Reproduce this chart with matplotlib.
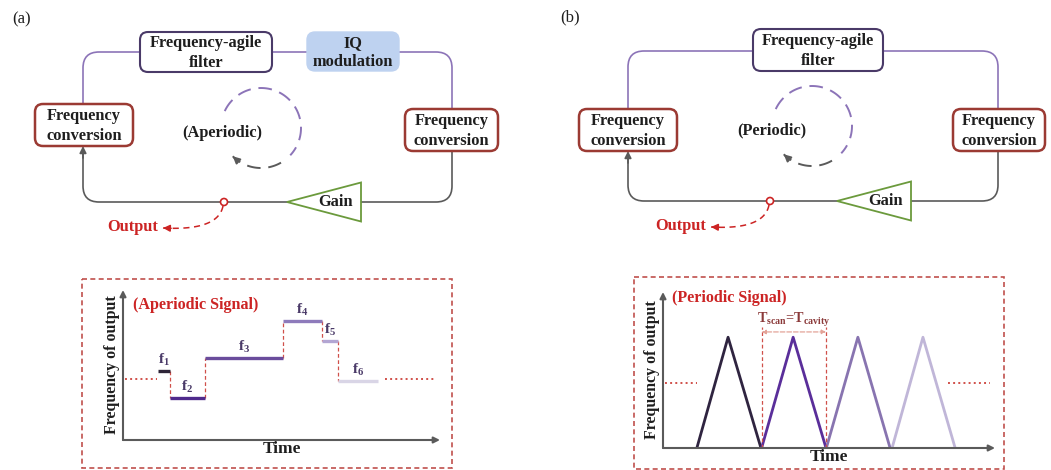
import numpy as np
import matplotlib
matplotlib.use('Agg')
from matplotlib import pyplot as plt
from matplotlib.path import Path
from matplotlib.patches import PathPatch, FancyBboxPatch, Polygon, Circle, Rectangle

plt.rcParams['font.family'] = ['Liberation Serif', 'DejaVu Serif']
plt.rcParams['mathtext.fontset'] = 'custom'
plt.rcParams['mathtext.rm'] = 'Liberation Serif:bold'
plt.rcParams['mathtext.bf'] = 'Liberation Serif:bold'
plt.rcParams['mathtext.it'] = 'Liberation Serif:bold'

# ---- data: aperiodic signal (step frequencies) ----
STEP_LABELS = ['1', '2', '3', '4', '5', '6']
STEP_START = [1.10, 1.48, 2.59, 5.05, 6.28, 6.78]
STEP_END = [1.48, 2.59, 5.05, 6.28, 6.78, 8.04]
STEP_LEVEL = [4.6, 2.8, 5.47, 7.93, 6.6, 3.93]
STEP_COLORS = ['#2e2438', '#4f2a8c', '#6a4c9c', '#8e7bbb', '#b3a6d3', '#d9d5e6']
APER_DOTS_LEFT = [0.06, 1.07]
APER_DOTS_RIGHT = [8.26, 9.84]
APER_DOT_LEVEL = 4.1

# ---- data: periodic signal (triangle sweeps) ----
TRI_START = [1.02, 2.97, 4.92, 6.90]
TRI_PEAK = [1.96, 3.92, 5.87, 7.83]
TRI_END = [2.95, 4.91, 6.84, 8.80]
TRI_HEIGHT = 7.1
TRI_COLORS = ['#2f2440', '#5a2e9a', '#8874b0', '#c0b6d8']
PER_DOTS_LEFT = [0.06, 1.02]
PER_DOTS_RIGHT = [8.58, 9.85]
PER_DOT_LEVEL = 4.17
TSCAN_X = [2.97, 4.91]
TSCAN_TOP = 7.76
TSCAN_ARROW_Y = 7.44

DARK = '#1e1e1e'
PURPLE_LINE = '#8c74b8'
GREY_LINE = '#5a5a5a'
BOX_RED = '#9b3a33'
BOX_PURPLE = '#4a3a68'
GAIN_GREEN = '#6b9a3c'
RED = '#cc2424'
DOT_RED = '#d0504a'

FS = 11.8
W, H = 1051, 470


def rounded_path(points, r):
    verts = [points[0]]
    codes = [Path.MOVETO]
    for i in range(1, len(points) - 1):
        p0, p1, p2 = (np.array(points[j], float) for j in (i - 1, i, i + 1))
        d1 = (p1 - p0) / np.linalg.norm(p1 - p0)
        d2 = (p2 - p1) / np.linalg.norm(p2 - p1)
        verts += [p1 - d1 * r, p1, p1 + d2 * r]
        codes += [Path.LINETO, Path.CURVE3, Path.CURVE3]
    verts.append(points[-1])
    codes.append(Path.LINETO)
    return Path(verts, codes)


def box(ax, x0, y0, x1, y1, lines, edge, face='white', lw=1.6):
    ax.add_patch(FancyBboxPatch((x0, y0), x1 - x0, y1 - y0,
                                boxstyle='round,pad=0,rounding_size=8',
                                ec=edge, fc=face, lw=lw, zorder=3))
    ax.text((x0 + x1) / 2, (y0 + y1) / 2 + 1, lines, ha='center', va='center',
            fontsize=FS, fontweight='bold', color=DARK, linespacing=1.3, zorder=4)


def dashed_curve(ax, pts, color, lw, dash=(4, 3)):
    ax.plot(pts[:, 0], pts[:, 1], color=color, lw=lw, ls=(0, dash), zorder=2)
    ax.annotate('', xy=pts[-1], xytext=pts[-4],
                arrowprops=dict(arrowstyle='-|>', color=color, lw=lw,
                                mutation_scale=10, shrinkA=0, shrinkB=0))


def draw_loop(ax, p):
    lx, rx, ty, by = p['left'], p['right'], p['top'], p['bottom']
    r = 16
    fl = p['filter']
    # purple upper path
    ax.add_patch(PathPatch(rounded_path([(lx, p['fc_left'][1]), (lx, ty), (fl[0], ty)], r),
                           fc='none', ec=PURPLE_LINE, lw=1.2, zorder=1))
    if p['iq'] is not None:
        iq = p['iq']
        ax.plot([fl[2], iq[0]], [ty, ty], color=PURPLE_LINE, lw=1.2, zorder=1)
        start = iq[2]
    else:
        start = fl[2]
    ax.add_patch(PathPatch(rounded_path([(start, ty), (rx, ty), (rx, p['fc_right'][1])], r),
                           fc='none', ec=PURPLE_LINE, lw=1.2, zorder=1))
    # grey lower path
    gx0, gx1, gh = p['gain']
    ax.add_patch(PathPatch(rounded_path([(rx, p['fc_right'][3]), (rx, by), (gx1, by)], r),
                           fc='none', ec=GREY_LINE, lw=1.2, zorder=1))
    ax.add_patch(PathPatch(rounded_path([(gx0, by), (lx, by), (lx, p['fc_left'][3] + 8)], r),
                           fc='none', ec=GREY_LINE, lw=1.2, zorder=1))
    ax.annotate('', xy=(lx, p['fc_left'][3]), xytext=(lx, p['fc_left'][3] + 12),
                arrowprops=dict(arrowstyle='-|>', color=GREY_LINE, lw=1.2,
                                mutation_scale=10, shrinkA=0, shrinkB=0), zorder=2)
    # boxes
    box(ax, *fl, 'Frequency-agile\nfilter', BOX_PURPLE, lw=1.5)
    if p['iq'] is not None:
        box(ax, *p['iq'], 'IQ\nmodulation', '#bed2f0', face='#bed2f0', lw=1.0)
    box(ax, *p['fc_left'], 'Frequency\nconversion', BOX_RED, lw=1.8)
    box(ax, *p['fc_right'], 'Frequency\nconversion', BOX_RED, lw=1.8)
    # gain triangle
    ax.add_patch(Polygon([(gx0, by), (gx1, by - gh), (gx1, by + gh)], closed=True,
                         fc='white', ec=GAIN_GREEN, lw=1.3, zorder=3))
    ax.text(gx1 - 25, by, 'Gain', ha='center', va='center', fontsize=FS,
            fontweight='bold', color=DARK, zorder=4)
    # output tap
    ox = p['out_x']
    ax.add_patch(Circle((ox, by), 3.5, fc='white', ec=RED, lw=1.2, zorder=4))
    tx, ty2 = p['out_tip']
    t = np.linspace(0, 1, 40)[:, None]
    a0, c, a1 = np.array([ox - 1, by + 4]), np.array([ox - 6, ty2 + 3]), np.array([tx, ty2])
    pts = (1 - t) ** 2 * a0 + 2 * (1 - t) * t * c + t ** 2 * a1
    dashed_curve(ax, pts, RED, 1.1)
    ax.text(tx - 5, ty2 - 1, 'Output', ha='right', va='center', fontsize=FS,
            fontweight='bold', color=RED)
    # circulation circle
    cx, cy = p['circle']
    rad = 40
    th = np.radians(np.linspace(155, -43, 80))
    ax.plot(cx + rad * np.cos(th), cy - rad * np.sin(th), color=PURPLE_LINE, lw=1.4,
            ls=(0, (7, 4)))
    th = np.radians(np.linspace(-60, -135, 40))
    pts = np.column_stack([cx + rad * np.cos(th), cy - rad * np.sin(th)])
    dashed_curve(ax, pts, GREY_LINE, 1.4, dash=(7, 4))
    ax.text(*p['circle_label'], p['mode'], ha='center', va='center', fontsize=FS,
            fontweight='bold', color=DARK)
    ax.text(*p['tag_pos'], p['tag'], ha='center', va='center', fontsize=12, color=DARK)


PANEL_A = dict(left=83, right=452, top=52, bottom=202,
               filter=(140, 32, 272, 72), iq=(307, 32, 399, 71),
               fc_left=(35, 104, 133, 146), fc_right=(405, 109, 498, 151),
               gain=(287, 361, 19.5), out_x=224, out_tip=(163, 228),
               circle=(261, 128), circle_label=(222, 133), mode='(Aperiodic)',
               tag='(a)', tag_pos=(22, 19))
PANEL_B = dict(left=628, right=998, top=51, bottom=201,
               filter=(753, 29, 883, 71), iq=None,
               fc_left=(579, 109, 677, 151), fc_right=(953, 109, 1045, 151),
               gain=(837, 911, 19.5), out_x=770, out_tip=(711, 227),
               circle=(812, 126), circle_label=(772, 130), mode='(Periodic)',
               tag='(b)', tag_pos=(570, 17))

fig = plt.figure(figsize=(W / 100, H / 100), dpi=100)
bg = fig.add_axes([0, 0, 1, 1])
bg.set_xlim(0, W)
bg.set_ylim(H, 0)
bg.axis('off')

draw_loop(bg, PANEL_A)
draw_loop(bg, PANEL_B)

# dashed frames of the signal insets
for x0, y0, x1, y1 in [(82, 279, 452, 468), (634, 277, 1004, 469)]:
    bg.add_patch(Rectangle((x0, y0), x1 - x0, y1 - y0, fc='none', ec='#c0504d',
                           lw=1.2, ls=(0, (3, 2))))


def signal_axes(ox, oy, xe, yt):
    ax = fig.add_axes([ox / W, (H - oy) / H, (xe - ox) / W, (oy - yt) / H])
    ax.set_xlim(0, 10)
    ax.set_ylim(0, 10)
    ax.patch.set_alpha(0)
    for s in ax.spines.values():
        s.set_visible(False)
    ax.set_xticks([])
    ax.set_yticks([])
    for end in [(1, 0), (0, 1)]:
        ax.annotate('', xy=end, xytext=(0, 0), xycoords='axes fraction',
                    arrowprops=dict(arrowstyle='-|>', color=GREY_LINE, lw=1.5,
                                    mutation_scale=9, shrinkA=0, shrinkB=0))
    ax.set_ylabel('Frequency of output', fontsize=11.4, fontweight='bold',
                  color=DARK, labelpad=2)
    ax.set_xlabel('Time', fontsize=12.5, fontweight='bold', color=DARK, labelpad=1)
    return ax


# aperiodic signal
ax1 = signal_axes(123, 440, 440, 290)
ax1.plot(APER_DOTS_LEFT, [APER_DOT_LEVEL] * 2, color=DOT_RED, ls=':', lw=1.4)
ax1.plot(APER_DOTS_RIGHT, [APER_DOT_LEVEL] * 2, color=DOT_RED, ls=':', lw=1.4)
for i in range(len(STEP_LEVEL) - 1):
    ax1.plot([STEP_END[i]] * 2, [STEP_LEVEL[i], STEP_LEVEL[i + 1]], color=DOT_RED,
             lw=0.9, ls=(0, (3, 2)))
for s, e, lv, c, lab in zip(STEP_START, STEP_END, STEP_LEVEL, STEP_COLORS, STEP_LABELS):
    ax1.plot([s, e], [lv, lv], color=c, lw=2.4, solid_capstyle='butt')
    ax1.annotate('f$_{%s}$' % lab, xy=((s + e) / 2, lv), xytext=(0, 2),
                 textcoords='offset points', ha='center', va='bottom',
                 fontsize=11, fontweight='bold', color='#4a3a68')
ax1.text(0.3, 9.0, '(Aperiodic Signal)', fontsize=11.6, fontweight='bold',
         color=RED, va='center')

# periodic signal
ax2 = signal_axes(663, 448, 995, 292)
ax2.plot(PER_DOTS_LEFT, [PER_DOT_LEVEL] * 2, color=DOT_RED, ls=':', lw=1.4)
ax2.plot(PER_DOTS_RIGHT, [PER_DOT_LEVEL] * 2, color=DOT_RED, ls=':', lw=1.4)
for s, pk, e, c in zip(TRI_START, TRI_PEAK, TRI_END, TRI_COLORS):
    ax2.plot([s, pk, e], [0, TRI_HEIGHT, 0], color=c, lw=2.0)
for x in TSCAN_X:
    ax2.plot([x, x], [0, TSCAN_TOP], color=DOT_RED, lw=0.9, ls=(0, (3, 2)))
ax2.annotate('', xy=(TSCAN_X[0], TSCAN_ARROW_Y), xytext=(TSCAN_X[1], TSCAN_ARROW_Y),
             arrowprops=dict(arrowstyle='<|-|>', color='#e3a398', lw=0.9, ls='--',
                             mutation_scale=6, shrinkA=0, shrinkB=0))
ax2.text(sum(TSCAN_X) / 2, TSCAN_ARROW_Y + 0.2, r'T$_{\rm scan}$=T$_{\rm cavity}$',
         ha='center', va='bottom', fontsize=10.2, fontweight='bold', color='#8b3a3a')
ax2.text(0.28, 9.6, '(Periodic Signal)', fontsize=11.6, fontweight='bold',
         color=RED, va='center')

fig.savefig('out.png', dpi=100)
